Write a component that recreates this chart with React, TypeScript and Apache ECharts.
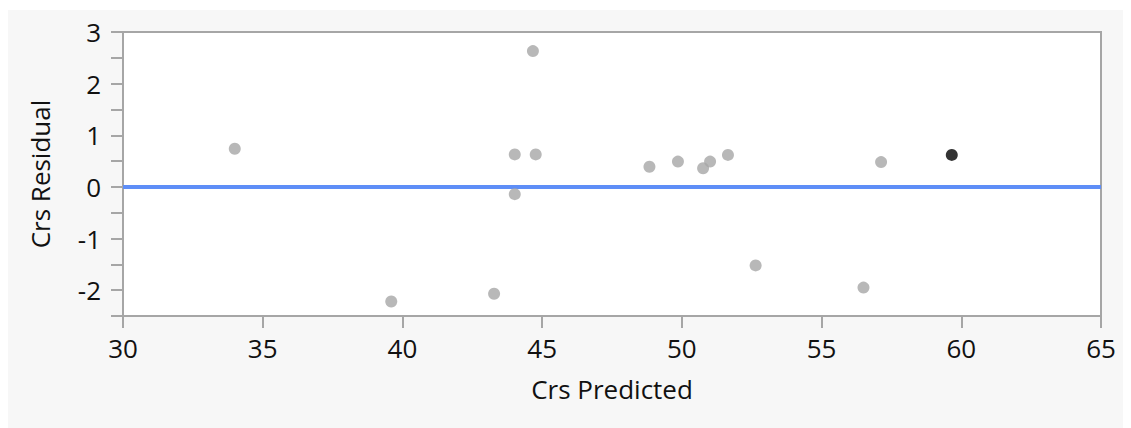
import React, { useEffect, useRef } from "react";
import * as echarts from "echarts";

const predicted = [34.0, 39.6, 44.67, 44.02, 44.77, 44.02, 48.84, 49.86, 50.76, 51.01, 51.65, 52.64, 43.28, 57.13, 56.5];
const residual = [0.74, -2.22, 2.63, 0.63, 0.63, -0.14, 0.39, 0.49, 0.36, 0.49, 0.62, -1.52, -2.07, 0.48, -1.95];
const highlightPredicted = [59.66];
const highlightResidual = [0.62];
const zeroLine = 0;
const xTicks = { min: 30, max: 65, interval: 5 };
const yTicks = { min: -2.5, max: 3, interval: 0.5 };

const FONT = "'Open Sans', 'Noto Sans', sans-serif";
const FS = 26;

export default function App() {
  const ref = useRef<HTMLDivElement>(null);
  useEffect(() => {
    if (!ref.current) return;
    const chart = echarts.init(ref.current, undefined, { renderer: "svg" });
    chart.setOption({
      animation: false,
      backgroundColor: "#f7f7f7",
      grid: {
        left: 115,
        right: 30,
        top: 22,
        bottom: 112,
        show: true,
        backgroundColor: "#ffffff",
        borderColor: "#a6a6a6",
        borderWidth: 2,
      },
      xAxis: {
        type: "value",
        min: xTicks.min,
        max: xTicks.max,
        interval: xTicks.interval,
        name: "Crs Predicted",
        nameLocation: "middle",
        nameGap: 60,
        nameTextStyle: { fontFamily: FONT, fontSize: FS, color: "#111" },
        axisLine: { show: true, onZero: false, lineStyle: { color: "#a6a6a6", width: 2 } },
        axisTick: { show: true, length: 12, lineStyle: { color: "#a6a6a6", width: 2 } },
        axisLabel: { fontFamily: FONT, fontSize: FS, color: "#111", margin: 19 },
        splitLine: { show: false },
      },
      yAxis: {
        type: "value",
        min: yTicks.min,
        max: yTicks.max,
        interval: yTicks.interval,
        name: "Crs Residual",
        nameLocation: "middle",
        nameGap: 70,
        nameTextStyle: { fontFamily: FONT, fontSize: FS, color: "#111" },
        axisLine: { show: true, onZero: false, lineStyle: { color: "#a6a6a6", width: 2 } },
        axisTick: { show: true, length: 12, lineStyle: { color: "#a6a6a6", width: 2 } },
        axisLabel: {
          fontFamily: FONT,
          fontSize: FS,
          color: "#111",
          margin: 22,
          formatter: (v: number) => (Number.isInteger(v) ? String(v) : ""),
        },
        splitLine: { show: false },
      },
      series: [
        {
          type: "scatter",
          data: predicted.map((x, i) => [x, residual[i]]),
          symbolSize: 12,
          itemStyle: { color: "#a6a6a6" },
          markLine: {
            silent: true,
            symbol: "none",
            label: { show: false },
            lineStyle: { color: "#5e8ef7", width: 4, type: "solid" },
            data: [{ yAxis: zeroLine }],
            z: 1,
          },
          z: 3,
        },
        {
          type: "scatter",
          data: highlightPredicted.map((x, i) => [x, highlightResidual[i]]),
          symbolSize: 12,
          itemStyle: { color: "#000000" },
          z: 4,
        },
      ],
    });
    return () => chart.dispose();
  }, []);
  return <div ref={ref} style={{ width: 1123, height: 418, marginTop: 2 }} />;
}
